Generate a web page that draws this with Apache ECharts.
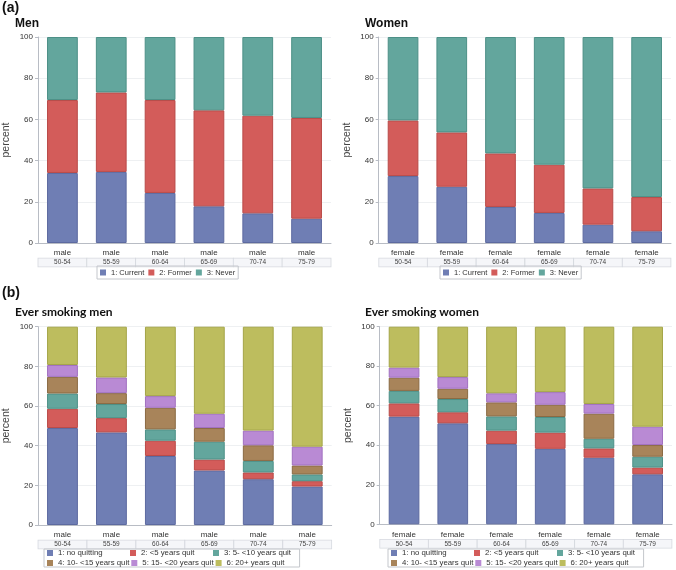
<!DOCTYPE html>
<html><head><meta charset="utf-8">
<script src="https://cdn.jsdelivr.net/npm/echarts@6/dist/echarts.min.js"></script>
<style>html,body{margin:0;padding:0;background:#fff}#c{width:676px;height:570px}</style>
</head><body><div id="c"></div>
<script>
const ages = ['50-54','55-59','60-64','65-69','70-74','75-79'];
const yTicks = [0,20,40,60,80,100];
const statusNames = ['1: Current','2: Former','3: Never'];
const quitNames = ['1: no quitting','2: <5 years quit','3: 5- <10 years quit','4: 10- <15 years quit','5: 15- <20 years quit','6: 20+ years quit'];

const menCurrent = [34.0, 34.5, 24.3, 17.8, 14.4, 11.8];
const menFormer  = [35.4, 38.6, 45.1, 46.6, 47.4, 48.9];
const menNever   = [30.6, 26.9, 30.6, 35.6, 38.2, 39.3];

const womenCurrent = [32.5, 27.3, 17.5, 14.6, 8.9, 5.7];
const womenFormer  = [27.0, 26.4, 26.0, 23.4, 17.6, 16.6];
const womenNever   = [40.5, 46.3, 56.5, 62.0, 73.5, 77.7];

const evMenNoQuit = [48.9, 46.7, 34.8, 27.5, 23.1, 19.4];
const evMenLt5    = [9.7, 7.2, 7.7, 5.5, 3.4, 2.7];
const evMen5to10  = [7.7, 7.1, 5.7, 9.0, 5.8, 3.4];
const evMen10to15 = [8.4, 5.5, 10.9, 6.9, 7.9, 4.5];
const evMen15to20 = [6.0, 7.9, 5.9, 7.2, 7.4, 9.5];
const evMen20plus = [19.3, 25.6, 35.0, 43.9, 52.4, 60.5];

const evWomenNoQuit = [54.5, 51.1, 40.6, 38.2, 33.7, 25.3];
const evWomenLt5    = [6.7, 5.6, 6.8, 8.2, 4.7, 3.4];
const evWomen5to10  = [6.3, 6.7, 7.2, 7.9, 4.9, 5.5];
const evWomen10to15 = [6.7, 5.2, 7.1, 6.2, 12.7, 5.9];
const evWomen15to20 = [5.1, 5.9, 4.6, 6.4, 4.9, 9.3];
const evWomen20plus = [20.7, 25.5, 33.7, 33.1, 39.1, 50.6];

const fills   = ['#6f7eb4','#d35c5a','#63a69d','#a8845a','#b98ad4','#bdbd5e'];
const borders = ['#5d6aa0','#b94a48','#4d9087','#8a6a43','#a170c0','#a4a548'];

const F = '"Liberation Sans", Arial, sans-serif';

const grids = [
  {left: 36.7, top: 37, width: 294.3, height: 206},
  {left: 378.7, top: 37, width: 292.3, height: 206},
  {left: 37.3, top: 326.7, width: 294.4, height: 198.3},
  {left: 379.7, top: 326.7, width: 292.3, height: 197.6}
];
const sexLabel = ['male','female','male','female'];

function xAxis(i){
  const cell = grids[i].width / ages.length;
  return {
    type: 'category', gridIndex: i, data: ages,
    axisLine: {lineStyle: {color: '#b8bcc4', width: 1}},
    axisTick: {alignWithLabel: true, length: 3, lineStyle: {color: '#b8bcc4'}},
    axisLabel: {
      margin: 5, interval: 0,
      formatter: v => '{a|' + sexLabel[i] + '}\n{b|' + v + '}',
      rich: {
        a: {fontFamily: F, fontSize: 8, lineHeight: 10, color: '#333'},
        b: {fontFamily: F, fontSize: 6.5, lineHeight: 9, height: 8, width: cell - 1, align: 'center',
            backgroundColor: '#f5f6f9', borderColor: '#d6d9df', borderWidth: 0.8, color: '#444'}
      }
    }
  };
}
function yAxis(i){
  return {
    type: 'value', gridIndex: i, min: 0, max: 100, interval: 20,
    name: 'percent', nameLocation: 'middle', nameGap: 26,
    nameTextStyle: {fontFamily: F, fontSize: 10.5, color: '#444'},
    axisLine: {show: true, lineStyle: {color: '#b8bcc4'}},
    axisTick: {show: true, length: 3, lineStyle: {color: '#b8bcc4'}},
    axisLabel: {fontFamily: F, fontSize: 8, color: '#333', margin: 5,
      formatter: v => yTicks.includes(v) ? String(v) : ''},
    splitLine: {lineStyle: {color: '#eef0f2', width: 1}}
  };
}
function bar(name, data, i, ci){
  return {
    type: 'bar', name, data, xAxisIndex: i, yAxisIndex: i, stack: 's' + i,
    barWidth: '63%',
    itemStyle: {color: fills[ci], borderColor: borders[ci], borderWidth: 1},
    emphasis: {disabled: true}
  };
}

const series = [
  bar(statusNames[0], menCurrent, 0, 0), bar(statusNames[1], menFormer, 0, 1), bar(statusNames[2], menNever, 0, 2),
  bar(statusNames[0], womenCurrent, 1, 0), bar(statusNames[1], womenFormer, 1, 1), bar(statusNames[2], womenNever, 1, 2),
  bar(quitNames[0], evMenNoQuit, 2, 0), bar(quitNames[1], evMenLt5, 2, 1), bar(quitNames[2], evMen5to10, 2, 2),
  bar(quitNames[3], evMen10to15, 2, 3), bar(quitNames[4], evMen15to20, 2, 4), bar(quitNames[5], evMen20plus, 2, 5),
  bar(quitNames[0], evWomenNoQuit, 3, 0), bar(quitNames[1], evWomenLt5, 3, 1), bar(quitNames[2], evWomen5to10, 3, 2),
  bar(quitNames[3], evWomen10to15, 3, 3), bar(quitNames[4], evWomen15to20, 3, 4), bar(quitNames[5], evWomen20plus, 3, 5)
];

function legendA(left){
  return {
    data: statusNames, left, top: 266, orient: 'horizontal',
    itemWidth: 6, itemHeight: 6, itemGap: 4, icon: 'rect',
    itemStyle: {borderWidth: 0},
    padding: [2, 3], borderColor: '#c4c7cc', borderWidth: 1,
    textStyle: {fontFamily: F, fontSize: 7.5, color: '#333', lineHeight: 9},
    selectedMode: false
  };
}
function legendB(left){
  return {
    data: quitNames, left, top: 549, orient: 'horizontal', width: 252,
    itemWidth: 6, itemHeight: 6, itemGap: 2, icon: 'rect',
    itemStyle: {borderWidth: 0},
    padding: [0, 3], borderColor: '#c4c7cc', borderWidth: 1,
    textStyle: {fontFamily: F, fontSize: 7.8, color: '#333', lineHeight: 8, width: 70},
    selectedMode: false
  };
}

function title(text, left, top, size, family){
  return {text, left, top, padding: 0,
    textStyle: {fontFamily: family, fontSize: size, fontWeight: 'bold', color: '#111'}};
}

const chart = echarts.init(document.getElementById('c'), null, {renderer: 'canvas'});
chart.setOption({
  animation: false,
  title: [
    title('(a)', 2, 1, 14, F),
    title('Men', 15, 18, 12, F),
    title('Women', 365, 18, 12, F),
    title('(b)', 2, 286, 14, F),
    title('Ever smoking men', 15, 306, 12, 'Lato, sans-serif'),
    title('Ever smoking women', 365, 306, 12, 'Lato, sans-serif')
  ],
  grid: grids,
  xAxis: [0,1,2,3].map(xAxis),
  yAxis: [0,1,2,3].map(yAxis),
  legend: [legendA(97), legendA(440), legendB(44), legendB(388)],
  series
});
</script></body></html>
